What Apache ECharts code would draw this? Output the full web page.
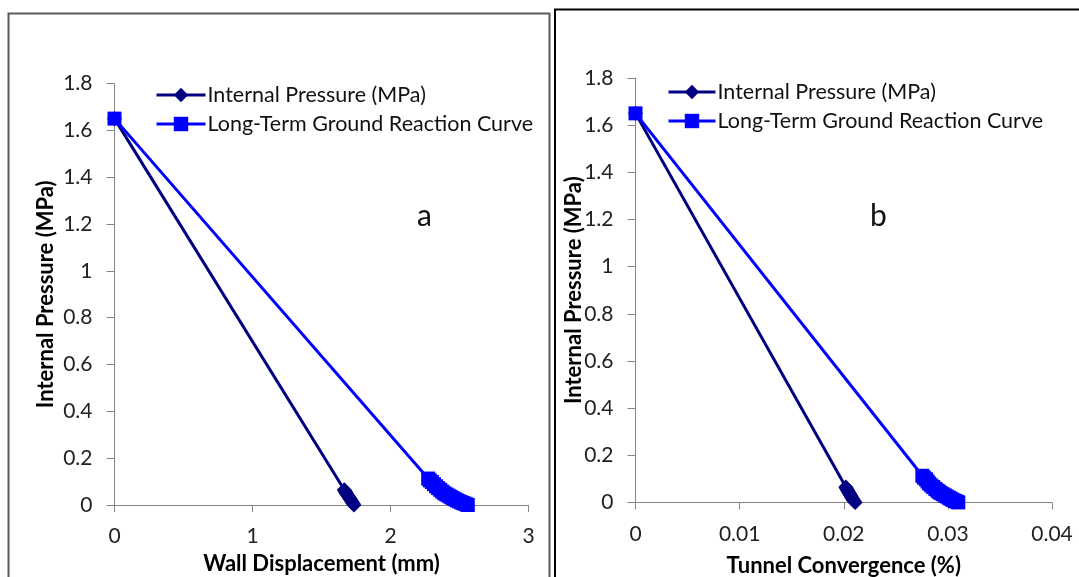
<!DOCTYPE html>
<html>
<head>
<meta charset="utf-8">
<script src="https://cdn.jsdelivr.net/npm/echarts@6/dist/echarts.min.js"></script>
<style>
html,body{margin:0;padding:0;background:#fff;}
#chart{width:1079px;height:577px;}
</style>
</head>
<body>
<div id="chart"></div>
<script>
// ---- Data ----
const seriesNames = ['Internal Pressure (MPa)', 'Long-Term Ground Reaction Curve'];
const panelLabels = ['a', 'b'];
const xTitles = ['Wall Displacement (mm)', 'Tunnel Convergence (%)'];
const yTitle = 'Internal Pressure (MPa)';

// Panel a: wall displacement (mm) vs internal pressure (MPa)
const aPressureX = [0, 1.665, 1.670, 1.675, 1.680, 1.685, 1.690, 1.695, 1.700, 1.705, 1.710, 1.715, 1.720, 1.725, 1.730, 1.735];
const aPressureY = [1.65, 0.065, 0.060, 0.055, 0.050, 0.045, 0.041, 0.037, 0.032, 0.028, 0.023, 0.019, 0.014, 0.010, 0.005, 0];
const aGrcX = [0, 2.273, 2.285, 2.300, 2.315, 2.330, 2.345, 2.360, 2.375, 2.390, 2.405, 2.420, 2.435, 2.450, 2.465, 2.480, 2.495, 2.510, 2.523, 2.535, 2.548, 2.560];
const aGrcY = [1.65, 0.113, 0.105, 0.098, 0.089, 0.080, 0.072, 0.065, 0.057, 0.050, 0.045, 0.040, 0.035, 0.030, 0.025, 0.020, 0.016, 0.012, 0.009, 0.006, 0.003, 0];

// Panel b: tunnel convergence (%) vs internal pressure (MPa)
const bPressureX = [0, 0.02020, 0.02026, 0.02032, 0.02038, 0.02044, 0.02050, 0.02056, 0.02062, 0.02068, 0.02074, 0.02080, 0.02086, 0.02092, 0.02100, 0.02110];
const bPressureY = [1.65, 0.065, 0.060, 0.055, 0.050, 0.045, 0.041, 0.037, 0.032, 0.028, 0.023, 0.019, 0.014, 0.010, 0.005, 0];
const bGrcX = [0, 0.02755, 0.02770, 0.02790, 0.02805, 0.02820, 0.02840, 0.02860, 0.02880, 0.02900, 0.02915, 0.02930, 0.02950, 0.02970, 0.02990, 0.03010, 0.03025, 0.03040, 0.03055, 0.03070, 0.03085, 0.03100];
const bGrcY = [1.65, 0.113, 0.105, 0.098, 0.089, 0.080, 0.072, 0.065, 0.057, 0.050, 0.045, 0.040, 0.035, 0.030, 0.025, 0.020, 0.016, 0.012, 0.009, 0.006, 0.003, 0];

// Axis ranges
const aXRange = {min: 0, max: 3, interval: 1};
const bXRange = {min: 0, max: 0.04, interval: 0.01};
const yRange = {min: 0, max: 1.8, interval: 0.2};

// ---- Build ----
const pair = (xs, ys) => xs.map((x, i) => [x, ys[i]]);
const FONT = 'Lato, "Open Sans", sans-serif';
const DARK = '#000080';
const BLUE = '#0000FF';
const AXIS_GRAY = '#868686';

function xAxis(idx, range, title, gap) {
  return {
    type: 'value', gridIndex: idx, min: range.min, max: range.max, interval: range.interval,
    name: title, nameLocation: 'middle', nameGap: gap, nameMoveOverlap: false,
    nameTextStyle: {fontFamily: FONT, fontWeight: 'bold', fontSize: 22, color: '#000'},
    axisLine: {show: true, onZero: false, lineStyle: {color: AXIS_GRAY, width: 1}},
    axisTick: {show: true, inside: false, length: 7, lineStyle: {color: AXIS_GRAY}},
    axisLabel: {fontFamily: FONT, fontSize: 21, color: '#222', margin: 21},
    splitLine: {show: false}
  };
}
function yAxis(idx, gap) {
  return {
    type: 'value', gridIndex: idx, min: yRange.min, max: yRange.max, interval: yRange.interval,
    name: yTitle, nameLocation: 'middle', nameGap: gap, nameRotate: 90, nameMoveOverlap: false,
    nameTextStyle: {fontFamily: FONT, fontWeight: 'bold', fontSize: 22, color: '#000'},
    axisLine: {show: true, onZero: false, lineStyle: {color: AXIS_GRAY, width: 1}},
    axisTick: {show: true, inside: false, length: 8, lineStyle: {color: AXIS_GRAY}},
    axisLabel: {fontFamily: FONT, fontSize: 21, color: '#222', margin: 22},
    splitLine: {show: false}
  };
}
function lineSeries(name, idx, data, color, symbol, size) {
  return {
    name: name, type: 'line', xAxisIndex: idx, yAxisIndex: idx, data: data,
    symbol: symbol, symbolSize: size, showSymbol: true, showAllSymbol: true,
    lineStyle: {color: color, width: 3}, itemStyle: {color: color, borderWidth: 0},
    animation: false, z: 3
  };
}
function legend(left, top, w) {
  return {
    orient: 'vertical', left: left, top: top, itemWidth: w, itemHeight: 18, itemGap: 7,
    data: seriesNames, selectedMode: false,
    lineStyle: {width: 3},
    textStyle: {fontFamily: FONT, fontSize: 21.5, color: '#111', padding: [0, 0, 0, -3]}
  };
}

const chart = echarts.init(document.getElementById('chart'), null, {renderer: 'canvas'});
chart.setOption({
  backgroundColor: '#fff',
  animation: false,
  grid: [
    {left: 114.5, top: 83.5, width: 414, height: 421.5, outerBoundsMode: 'none', containLabel: false},
    {left: 635.5, top: 78, width: 416.5, height: 424.4, outerBoundsMode: 'none', containLabel: false}
  ],
  xAxis: [xAxis(0, aXRange, xTitles[0], 48), xAxis(1, bXRange, xTitles[1], 53)],
  yAxis: [yAxis(0, 58), yAxis(1, 51)],
  legend: [legend(150, 79, 49), legend(662, 76, 47)],
  series: [
    lineSeries(seriesNames[0], 0, pair(aPressureX, aPressureY), DARK, 'diamond', 15),
    lineSeries(seriesNames[1], 0, pair(aGrcX, aGrcY), BLUE, 'rect', 14),
    lineSeries(seriesNames[0], 1, pair(bPressureX, bPressureY), DARK, 'diamond', 15),
    lineSeries(seriesNames[1], 1, pair(bGrcX, bGrcY), BLUE, 'rect', 14)
  ],
  graphic: [
    {type: 'rect', silent: true, shape: {x: 8.5, y: 13.5, width: 541, height: 620},
     style: {fill: 'none', stroke: '#5a5a5a', lineWidth: 2}},
    {type: 'rect', silent: true, shape: {x: 555, y: 9.5, width: 620, height: 620},
     style: {fill: 'none', stroke: '#000', lineWidth: 2}},
    {type: 'text', left: 417, top: 201, silent: true,
     style: {text: panelLabels[0], font: '30px Lato', fill: '#111'}},
    {type: 'text', left: 870, top: 201, silent: true,
     style: {text: panelLabels[1], font: '30px Lato', fill: '#111'}}
  ]
});
</script>
</body>
</html>
